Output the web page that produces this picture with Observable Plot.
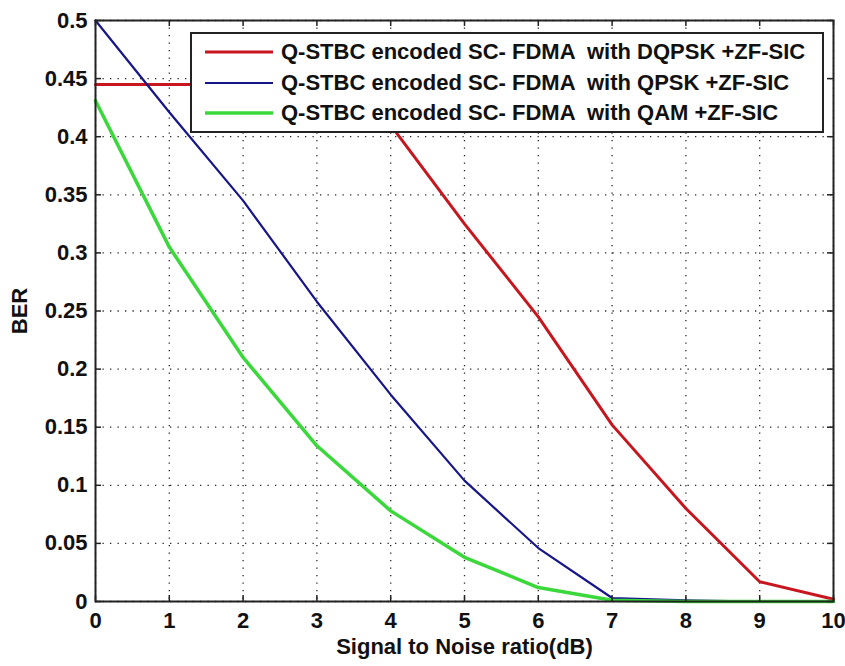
<!DOCTYPE html>
<html>
<head>
<meta charset="utf-8">
<script src="https://cdn.jsdelivr.net/npm/d3@7"></script>
<script src="https://cdn.jsdelivr.net/npm/@observablehq/plot@0.6"></script>
<style>
  html, body { margin: 0; padding: 0; background: #fff; }
  #wrap { position: relative; width: 845px; height: 666px; }
  #legend {
    position: absolute; left: 190px; top: 32px; width: 634px; height: 101px;
    border: 2px solid #222; background: #fff; box-sizing: border-box;
    font-family: "Liberation Sans", Arial, sans-serif; font-weight: bold; font-size: 22px;
  }
  .entry { position: absolute; left: 13px; display: flex; align-items: center; white-space: pre; color: #111; }
  .entry svg { margin-right: 8px; }
</style>
</head>
<body>
<div id="wrap"></div>
<script>
const snr = [0, 1, 2, 3, 4, 5, 6, 7, 8, 9, 10];
const berDQPSK = [0.445, 0.445, 0.445, 0.445, 0.41, 0.325, 0.245, 0.152, 0.08, 0.017, 0.002];
const berQPSK  = [0.5, 0.421, 0.345, 0.258, 0.178, 0.104, 0.046, 0.003, 0.001, 0, 0];
const berQAM   = [0.431, 0.305, 0.21, 0.134, 0.078, 0.038, 0.012, 0.001, 0, 0, 0];
const seriesNames = [
  "Q-STBC encoded SC- FDMA  with DQPSK +ZF-SIC",
  "Q-STBC encoded SC- FDMA  with QPSK +ZF-SIC",
  "Q-STBC encoded SC- FDMA  with QAM +ZF-SIC"
];
const seriesColors = ["#c8161e", "#16168a", "#3ad83a"];
const seriesWidths = [3, 2.2, 3.5];
const xTicks = [0, 1, 2, 3, 4, 5, 6, 7, 8, 9, 10];
const yTicks = [0, 0.05, 0.1, 0.15, 0.2, 0.25, 0.3, 0.35, 0.4, 0.45, 0.5];
const xLabel = "Signal to Noise ratio(dB)";
const yLabel = "BER";

const allSeries = [berDQPSK, berQPSK, berQAM];
const data = allSeries.flatMap((vals, i) => vals.map((v, j) => ({x: snr[j], y: v, s: seriesNames[i]})));

const W = 845, H = 666;
const mL = 95, mR = 12, mT = 20, mB = 65;
const innerH = H - mT - mB, innerW = W - mL - mR;
const tickLen = 6;

const chart = Plot.plot({
  width: W, height: H,
  marginLeft: mL, marginRight: mR, marginTop: mT, marginBottom: mB,
  style: {fontFamily: '"Liberation Sans", Arial, sans-serif', fontWeight: "bold", fontSize: "22px", color: "#111", background: "#fff"},
  x: {domain: [0, 10]},
  y: {domain: [0, 0.5]},
  marks: [
    Plot.gridX(xTicks, {stroke: "#000", strokeOpacity: 0.85, strokeWidth: 1.3, strokeDasharray: "1.3,6.2"}),
    Plot.gridY(yTicks, {stroke: "#000", strokeOpacity: 0.85, strokeWidth: 1.3, strokeDasharray: "1.3,6.2"}),
    ...seriesNames.map((name, i) => Plot.line(data.filter(d => d.s === name), {
      x: "x", y: "y", stroke: seriesColors[i], strokeWidth: seriesWidths[i], strokeLinejoin: "round"
    })),
    Plot.tickX(xTicks, {x: d => d, insetTop: innerH - tickLen, stroke: "#222", strokeWidth: 1.5}),
    Plot.tickX(xTicks, {x: d => d, insetBottom: innerH - tickLen, stroke: "#222", strokeWidth: 1.5}),
    Plot.tickY(yTicks, {y: d => d, insetRight: innerW - tickLen, stroke: "#222", strokeWidth: 1.5}),
    Plot.tickY(yTicks, {y: d => d, insetLeft: innerW - tickLen, stroke: "#222", strokeWidth: 1.5}),
    Plot.frame({stroke: "#222", strokeWidth: 2}),
    Plot.axisX(xTicks, {tickSize: 0, tickPadding: 11, tickFormat: d => String(d),
      label: xLabel, labelAnchor: "center", labelOffset: 52, labelArrow: "none"}),
    Plot.axisY(yTicks, {tickSize: 0, tickPadding: 8, tickFormat: d => String(d),
      label: yLabel, labelAnchor: "center", labelOffset: 84, labelArrow: "none"})
  ]
});

const wrap = document.getElementById("wrap");
wrap.appendChild(chart);

const legend = document.createElement("div");
legend.id = "legend";
seriesNames.forEach((name, i) => {
  const e = document.createElement("div");
  e.className = "entry";
  e.style.top = (5 + i * 30.5) + "px";
  const ns = "http://www.w3.org/2000/svg";
  const s = document.createElementNS(ns, "svg");
  s.setAttribute("width", "68"); s.setAttribute("height", "20");
  const l = document.createElementNS(ns, "line");
  l.setAttribute("x1", "0"); l.setAttribute("x2", "68");
  l.setAttribute("y1", "10"); l.setAttribute("y2", "10");
  l.setAttribute("stroke", seriesColors[i]);
  l.setAttribute("stroke-width", seriesWidths[i]);
  s.appendChild(l);
  e.appendChild(s);
  const t = document.createElement("span");
  t.textContent = name;
  e.appendChild(t);
  legend.appendChild(e);
});
wrap.appendChild(legend);
</script>
</body>
</html>
